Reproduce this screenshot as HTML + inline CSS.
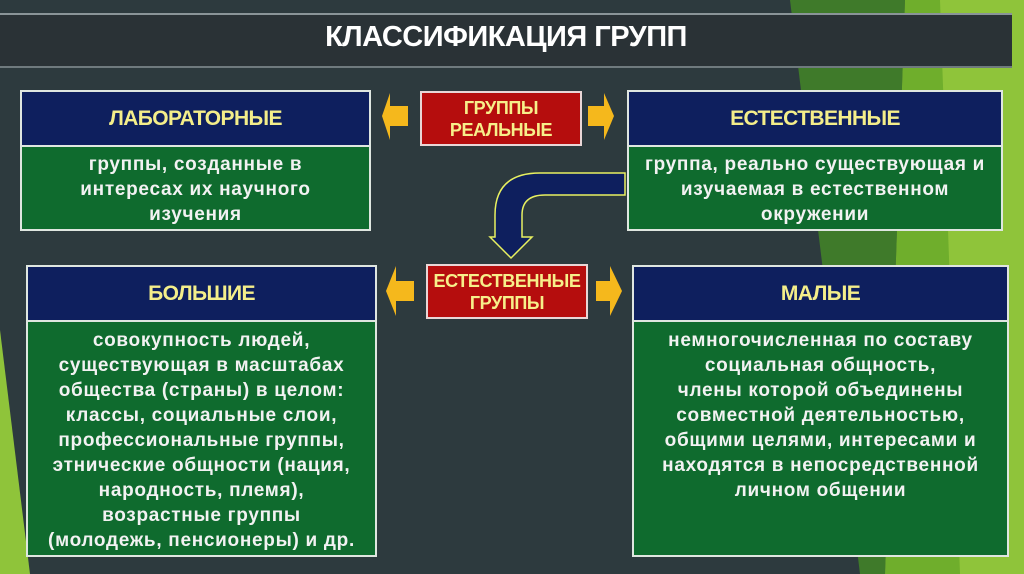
<!DOCTYPE html>
<html><head><meta charset="utf-8"><style>
*{margin:0;padding:0;box-sizing:border-box}
body{width:1024px;height:574px;overflow:hidden;background:#2d3a3e;font-family:"Liberation Sans",sans-serif;position:relative}
.a{position:absolute}
.box{position:absolute;border:2px solid #dfe6e0}
.hd{background:#0e1f5e;color:#f4ee8a;font-weight:bold;font-size:21px;letter-spacing:-0.6px;display:flex;align-items:center;justify-content:center;border-bottom:2px solid #dfe6e0}
.bd{background:#0f6b2e;color:#f2f2f2;font-weight:bold;font-size:19px;text-align:center;line-height:25px;letter-spacing:0.7px;white-space:nowrap}
.red{position:absolute;background:#b50d0d;border:2px solid #e9d6d6;color:#f7ef8a;font-weight:bold;font-size:18px;letter-spacing:-0.4px;text-align:center;line-height:22px;display:flex;align-items:center;justify-content:center}
</style></head><body>
<svg class="a" style="left:0;top:0" width="1024" height="574">
<polygon points="790,0 905,0 885,574 860,574" fill="#3f7a2a"/>
<polygon points="905,0 1024,0 1024,574 885,574" fill="#6fae2c"/>
<polygon points="940,0 1024,0 1024,574 960,574" fill="#8fc43a"/>
<polygon points="0,330 30,574 0,574" fill="#8fc43a"/>
<rect x="0" y="13" width="1012" height="55" fill="#2a3236"/>
<rect x="0" y="13" width="1012" height="2" fill="#8a9498"/>
<rect x="0" y="66" width="1012" height="2" fill="#6f7a7e"/>
<polygon points="390,93 382,116 390,140 390,126 408,126 408,106 390,106" fill="#f5b81c"/>
<polygon points="604,93 614,116 604,140 604,126 588,126 588,106 604,106" fill="#f5b81c"/>
<polygon points="396,266 386,291 396,316 396,301 414,301 414,281 396,281" fill="#f5b81c"/>
<polygon points="610,266 622,291 610,316 610,301 596,301 596,281 610,281" fill="#f5b81c"/>
<path d="M625,173 L540,173 Q495,173 495,215 L495,237 L490,237 L511,258 L532,237 L522,237 L522,215 Q522,195 545,195 L625,195 Z" fill="#0e1f5e" stroke="#e8f060" stroke-width="1.5"/>
</svg>
<div class="a" style="left:0;top:21px;width:1012px;text-align:center;color:#fff;font-weight:bold;font-size:29px;letter-spacing:-0.5px">КЛАССИФИКАЦИЯ ГРУПП</div>

<div class="box" style="left:20px;top:90px;width:351px;height:141px">
<div class="hd" style="height:55px">ЛАБОРАТОРНЫЕ</div>
<div class="bd" style="height:82px;padding-top:5px">группы, созданные в<br>интересах их научного<br>изучения</div></div>

<div class="box" style="left:627px;top:90px;width:376px;height:141px">
<div class="hd" style="height:55px">ЕСТЕСТВЕННЫЕ</div>
<div class="bd" style="height:82px;padding-top:5px">группа, реально существующая и<br>изучаемая в естественном<br>окружении</div></div>

<div class="red" style="left:420px;top:91px;width:162px;height:55px">ГРУППЫ<br>РЕАЛЬНЫЕ</div>
<div class="red" style="left:426px;top:264px;width:162px;height:55px">ЕСТЕСТВЕННЫЕ<br>ГРУППЫ</div>

<div class="box" style="left:26px;top:265px;width:351px;height:292px">
<div class="hd" style="height:55px">БОЛЬШИЕ</div>
<div class="bd" style="height:233px;padding-top:6px">совокупность людей,<br>существующая в масштабах<br>общества (страны) в целом:<br>классы, социальные слои,<br>профессиональные группы,<br>этнические общности (нация,<br>народность, племя),<br>возрастные группы<br>(молодежь, пенсионеры) и др.</div></div>

<div class="box" style="left:632px;top:265px;width:377px;height:292px">
<div class="hd" style="height:55px">МАЛЫЕ</div>
<div class="bd" style="height:233px;padding-top:6px">немногочисленная по составу<br>социальная общность,<br>члены которой объединены<br>совместной деятельностью,<br>общими целями, интересами и<br>находятся в непосредственной<br>личном общении</div></div>
</body></html>
